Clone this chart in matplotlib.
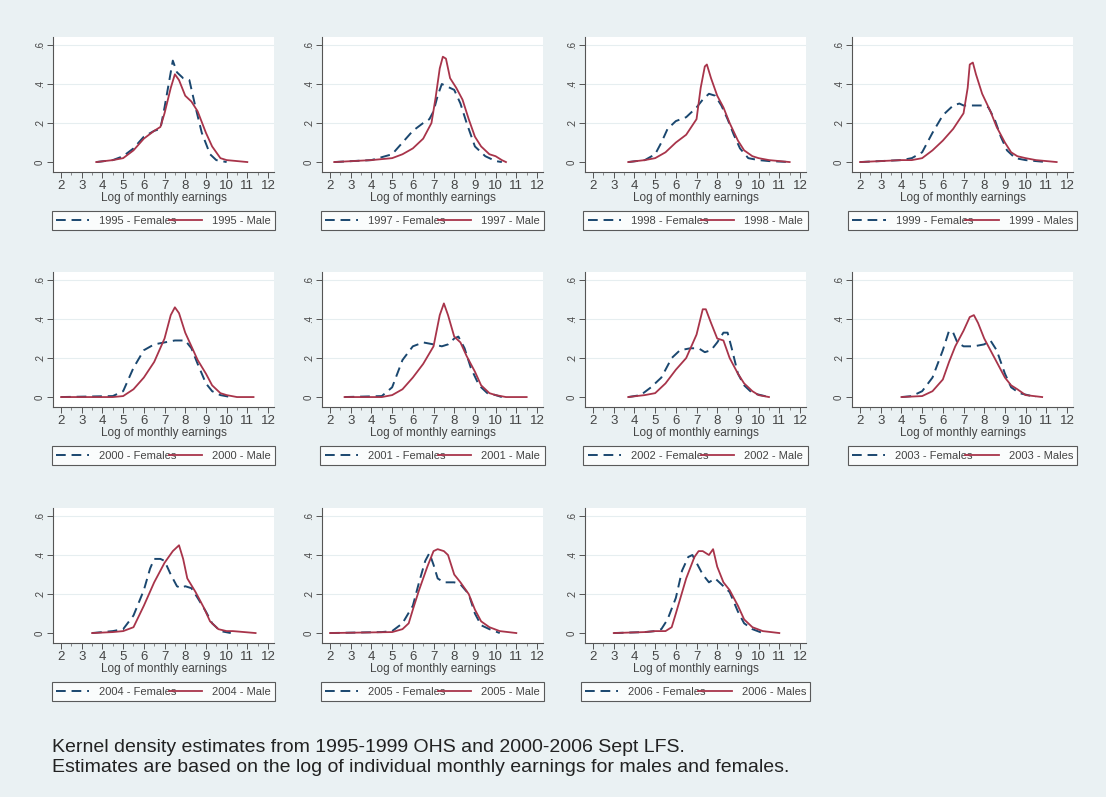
import matplotlib
matplotlib.use("Agg")
import matplotlib.pyplot as plt
import numpy as np

plt.rcParams['font.family'] = ['Liberation Sans', 'DejaVu Sans']

years = [1995, 1997, 1998, 1999, 2000, 2001, 2002, 2003, 2004, 2005, 2006]
male_word = ['Male', 'Male', 'Male', 'Males', 'Male', 'Male', 'Male', 'Males', 'Male', 'Male', 'Males']

# female densities (dashed)
fem_x = [
    [3.7, 4.5, 5.0, 5.5, 6.0, 6.5, 6.8, 7.0, 7.2, 7.4, 7.6, 7.9, 8.2, 8.5, 8.8, 9.2, 9.5, 10.0],
    [2.2, 4.0, 5.0, 5.5, 6.0, 6.5, 6.8, 7.0, 7.2, 7.4, 7.6, 8.0, 8.3, 8.6, 9.0, 9.5, 10.0, 10.3],
    [3.7, 4.5, 5.0, 5.3, 5.6, 6.0, 6.5, 7.0, 7.3, 7.6, 7.9, 8.2, 8.5, 8.8, 9.1, 9.5, 10.0, 10.5, 11.5],
    [2.0, 4.0, 4.5, 5.0, 5.5, 6.0, 6.5, 6.8, 7.0, 7.5, 8.0, 8.2, 8.5, 8.8, 9.1, 9.5, 10.0, 11.0],
    [2.0, 4.5, 5.0, 5.5, 6.0, 6.5, 7.0, 7.5, 8.0, 8.3, 8.6, 9.0, 9.3, 9.7, 10.2],
    [2.7, 4.5, 5.0, 5.5, 6.0, 6.5, 7.0, 7.4, 7.7, 8.0, 8.2, 8.5, 8.8, 9.2, 9.6, 10.0, 10.3],
    [3.7, 4.3, 4.8, 5.3, 5.8, 6.2, 6.7, 7.1, 7.4, 7.7, 8.0, 8.3, 8.5, 8.7, 9.0, 9.3, 9.7, 10.5],
    [4.0, 4.5, 5.0, 5.5, 6.0, 6.3, 6.5, 6.7, 7.0, 7.5, 8.0, 8.3, 8.6, 9.0, 9.3, 9.7, 10.5],
    [3.5, 4.5, 5.0, 5.5, 6.0, 6.3, 6.5, 6.8, 7.0, 7.3, 7.6, 7.8, 8.0, 8.3, 8.6, 9.0, 9.3, 9.7, 10.2],
    [2.0, 4.5, 5.0, 5.5, 6.0, 6.3, 6.6, 6.8, 7.0, 7.2, 7.5, 8.0, 8.3, 8.7, 9.0, 9.3, 9.7, 10.2],
    [3.0, 4.5, 5.0, 5.3, 5.6, 6.0, 6.3, 6.6, 6.8, 7.0, 7.3, 7.6, 7.9, 8.2, 8.6, 9.0, 9.3, 9.7, 10.2],
]
fem_y = [
    [0, 0.01, 0.03, 0.07, 0.13, 0.16, 0.17, 0.28, 0.40, 0.52, 0.46, 0.43, 0.42, 0.28, 0.15, 0.04, 0.01, 0],
    [0, 0.01, 0.04, 0.10, 0.16, 0.20, 0.22, 0.26, 0.34, 0.40, 0.39, 0.37, 0.30, 0.20, 0.08, 0.03, 0.005, 0],
    [0, 0.01, 0.04, 0.10, 0.17, 0.21, 0.23, 0.28, 0.32, 0.35, 0.34, 0.29, 0.22, 0.14, 0.07, 0.02, 0.01, 0.005, 0],
    [0, 0.01, 0.02, 0.05, 0.15, 0.24, 0.29, 0.30, 0.29, 0.29, 0.29, 0.28, 0.22, 0.13, 0.06, 0.02, 0.01, 0],
    [0, 0.005, 0.03, 0.15, 0.24, 0.27, 0.28, 0.29, 0.29, 0.25, 0.17, 0.07, 0.03, 0.01, 0],
    [0, 0.005, 0.05, 0.19, 0.26, 0.28, 0.27, 0.26, 0.27, 0.30, 0.31, 0.25, 0.15, 0.06, 0.02, 0.01, 0],
    [0, 0.01, 0.05, 0.10, 0.20, 0.24, 0.25, 0.25, 0.23, 0.24, 0.28, 0.33, 0.33, 0.25, 0.12, 0.06, 0.02, 0],
    [0, 0.005, 0.03, 0.10, 0.24, 0.34, 0.33, 0.28, 0.26, 0.26, 0.27, 0.29, 0.24, 0.12, 0.05, 0.02, 0],
    [0, 0.01, 0.02, 0.09, 0.22, 0.33, 0.38, 0.38, 0.37, 0.30, 0.24, 0.23, 0.24, 0.23, 0.18, 0.11, 0.05, 0.01, 0],
    [0, 0.005, 0.01, 0.05, 0.14, 0.26, 0.37, 0.41, 0.35, 0.28, 0.26, 0.26, 0.25, 0.20, 0.10, 0.04, 0.02, 0],
    [0, 0.005, 0.01, 0.02, 0.07, 0.18, 0.32, 0.39, 0.40, 0.36, 0.30, 0.26, 0.28, 0.25, 0.21, 0.11, 0.05, 0.02, 0],
]

# male densities (solid)
male_x = [
    [3.7, 4.5, 5.0, 5.5, 6.0, 6.5, 6.8, 7.0, 7.3, 7.5, 7.7, 8.0, 8.3, 8.6, 9.0, 9.3, 9.7, 10.0, 10.5, 11.0],
    [2.2, 4.0, 5.0, 5.5, 6.0, 6.5, 6.9, 7.1, 7.3, 7.45, 7.6, 7.8, 8.1, 8.4, 8.7, 9.0, 9.3, 9.7, 10.0, 10.3, 10.5],
    [3.7, 4.5, 5.0, 5.5, 6.0, 6.5, 7.0, 7.2, 7.4, 7.5, 7.7, 8.0, 8.3, 8.6, 9.0, 9.3, 9.7, 10.0, 10.5, 11.0, 11.5],
    [2.0, 4.0, 4.5, 5.0, 5.5, 6.0, 6.5, 7.0, 7.2, 7.3, 7.45, 7.6, 7.9, 8.3, 8.6, 9.0, 9.3, 9.6, 10.0, 10.5, 11.5],
    [2.0, 4.5, 5.0, 5.5, 6.0, 6.5, 7.0, 7.3, 7.5, 7.7, 8.0, 8.3, 8.6, 9.0, 9.3, 9.7, 10.0, 10.5, 11.3],
    [2.7, 4.5, 5.0, 5.5, 6.0, 6.5, 7.0, 7.3, 7.5, 7.7, 8.0, 8.3, 8.6, 9.0, 9.3, 9.7, 10.0, 10.5, 11.5],
    [3.7, 4.5, 5.0, 5.5, 6.0, 6.5, 7.0, 7.3, 7.45, 7.7, 8.0, 8.3, 8.6, 9.0, 9.3, 9.7, 10.0, 10.5],
    [4.0, 5.0, 5.5, 6.0, 6.3, 6.6, 7.0, 7.3, 7.5, 7.7, 8.0, 8.3, 8.6, 9.0, 9.3, 9.6, 10.0, 10.8],
    [3.5, 4.5, 5.0, 5.5, 6.0, 6.5, 7.0, 7.4, 7.7, 7.9, 8.1, 8.5, 8.9, 9.2, 9.6, 10.0, 10.3, 11.4],
    [2.0, 5.0, 5.5, 5.8, 6.0, 6.3, 6.7, 7.0, 7.2, 7.5, 7.7, 8.0, 8.3, 8.7, 9.0, 9.3, 9.7, 10.2, 11.0],
    [3.0, 4.5, 5.0, 5.5, 5.8, 6.0, 6.5, 6.9, 7.1, 7.3, 7.6, 7.8, 8.0, 8.3, 8.6, 9.0, 9.3, 9.7, 10.2, 11.0],
]
male_y = [
    [0, 0.01, 0.02, 0.06, 0.12, 0.16, 0.18, 0.25, 0.38, 0.45, 0.42, 0.34, 0.31, 0.26, 0.15, 0.08, 0.02, 0.01, 0.005, 0],
    [0, 0.01, 0.02, 0.04, 0.07, 0.12, 0.20, 0.33, 0.48, 0.54, 0.53, 0.43, 0.38, 0.32, 0.22, 0.13, 0.08, 0.04, 0.03, 0.01, 0],
    [0, 0.01, 0.02, 0.05, 0.10, 0.14, 0.22, 0.38, 0.49, 0.50, 0.43, 0.34, 0.28, 0.20, 0.11, 0.06, 0.03, 0.02, 0.01, 0.005, 0],
    [0, 0.01, 0.01, 0.02, 0.06, 0.11, 0.17, 0.25, 0.38, 0.50, 0.51, 0.45, 0.35, 0.26, 0.18, 0.10, 0.05, 0.03, 0.02, 0.01, 0],
    [0, 0, 0.005, 0.04, 0.10, 0.18, 0.30, 0.42, 0.46, 0.43, 0.33, 0.26, 0.19, 0.12, 0.06, 0.02, 0.01, 0, 0],
    [0, 0, 0.01, 0.04, 0.10, 0.17, 0.26, 0.42, 0.48, 0.42, 0.31, 0.28, 0.21, 0.13, 0.06, 0.02, 0.01, 0, 0],
    [0, 0.01, 0.02, 0.07, 0.14, 0.20, 0.32, 0.45, 0.45, 0.38, 0.30, 0.29, 0.20, 0.12, 0.07, 0.03, 0.01, 0],
    [0, 0.005, 0.03, 0.09, 0.18, 0.26, 0.34, 0.41, 0.42, 0.38, 0.30, 0.24, 0.18, 0.10, 0.06, 0.04, 0.01, 0],
    [0, 0.005, 0.01, 0.03, 0.14, 0.26, 0.36, 0.42, 0.45, 0.38, 0.28, 0.21, 0.13, 0.06, 0.02, 0.01, 0.01, 0],
    [0, 0.005, 0.02, 0.05, 0.12, 0.22, 0.34, 0.42, 0.43, 0.42, 0.40, 0.30, 0.26, 0.20, 0.12, 0.06, 0.03, 0.01, 0],
    [0, 0.005, 0.01, 0.01, 0.03, 0.10, 0.28, 0.39, 0.42, 0.42, 0.40, 0.43, 0.34, 0.26, 0.22, 0.14, 0.07, 0.03, 0.01, 0],
]

x_ticks = list(range(2, 13))
y_ticks = [0, 0.2, 0.4, 0.6]
y_ticklabels = ['0', '.2', '.4', '.6']

bg = '#eaf1f3'
navy = '#1a476f'
maroon = '#a8344a'

W, H = 1106, 797
fig = plt.figure(figsize=(W / 100, H / 100), dpi=100, facecolor=bg)

col_left = [53, 322, 585, 852]
row_bottom = [172, 407, 643]  # pixel y of x-axis line, from top
aw, ah = 221, 135

for i, yr in enumerate(years):
    r, c = divmod(i, 4)
    ax = fig.add_axes([col_left[c] / W, (H - row_bottom[r]) / H, aw / W, ah / H])
    ax.set_facecolor('white')
    ax.plot(fem_x[i], fem_y[i], color=navy, lw=1.4, ls=(0, (5, 3)),
            label='%d - Females' % yr)
    ax.plot(male_x[i], male_y[i], color=maroon, lw=1.3,
            label='%d - %s' % (yr, male_word[i]))
    ax.set_xlim(1.61, 12.29)
    ax.set_ylim(-0.051, 0.641)
    ax.set_xticks(x_ticks)
    ax.set_xticks(np.arange(2.5, 12, 1), minor=True)
    ax.set_yticks(y_ticks)
    ax.set_yticklabels(y_ticklabels, rotation=90, va='center')
    for yv in y_ticks[1:]:
        ax.axhline(yv, color='#e6eef0', lw=0.8, zorder=0)
    for s in ['top', 'right']:
        ax.spines[s].set_visible(False)
    for s in ['left', 'bottom']:
        ax.spines[s].set_color('#555555')
        ax.spines[s].set_linewidth(0.8)
    ax.tick_params(axis='x', labelsize=9.5, length=4, width=0.7, color='#555555',
                   pad=2, labelcolor='#444444')
    ax.tick_params(axis='x', which='minor', length=2, width=0.6, color='#777777')
    ax.tick_params(axis='y', labelsize=7, length=4, width=0.7, color='#555555',
                   pad=2, labelcolor='#444444')
    ax.set_xlabel('Log of monthly earnings', fontsize=8.5, color='#444444', labelpad=0)
    leg = ax.legend(loc='upper center', bbox_to_anchor=(0.5, -0.29), ncol=2,
                    fontsize=8, frameon=True, fancybox=False, edgecolor='#333333',
                    handlelength=3.0, columnspacing=-0.7, handletextpad=0.9,
                    borderpad=0.4, borderaxespad=0)
    leg.get_frame().set_linewidth(0.8)
    for t in leg.get_texts():
        t.set_color('#444444')

fig.text(52 / W, 1 - 747 / H, 'Kernel density estimates from 1995-1999 OHS and 2000-2006 Sept LFS.',
         fontsize=14, va='center', ha='left', color='#222222')
fig.text(52 / W, 1 - 768 / H, 'Estimates are based on the log of individual monthly earnings for males and females.',
         fontsize=14, va='center', ha='left', color='#222222')

fig.savefig('out.png', dpi=100, facecolor=bg)
